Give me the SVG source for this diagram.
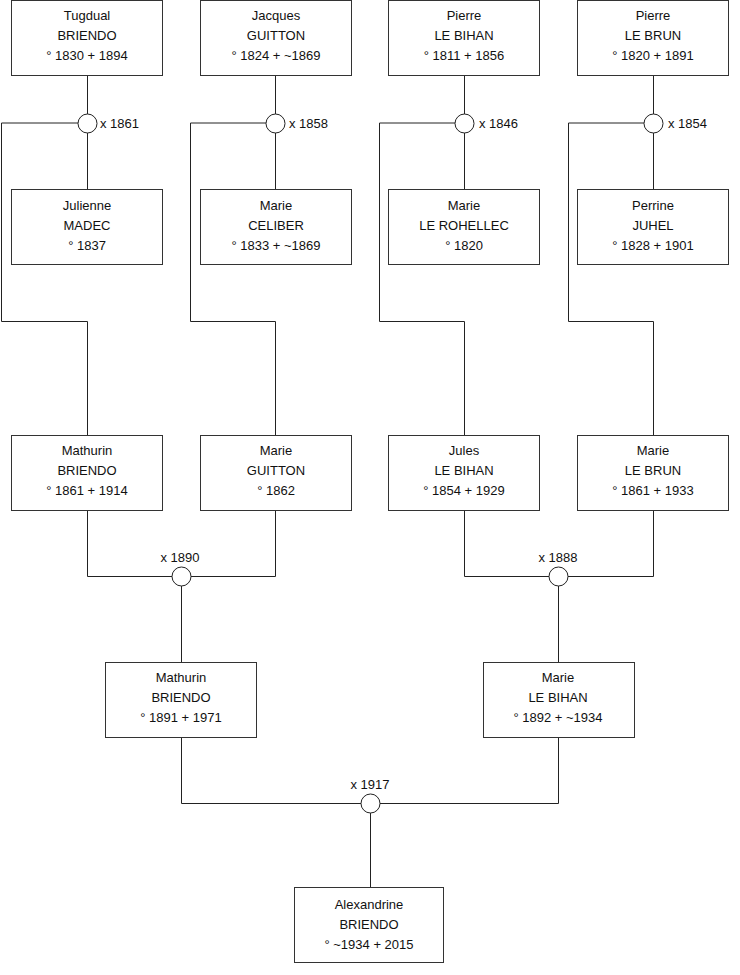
<svg xmlns="http://www.w3.org/2000/svg" width="740" height="975" viewBox="0 0 740 975">
<style>
.box{fill:#fff;stroke:#333;stroke-width:1}
.t{font-family:"Liberation Sans",Arial,sans-serif;font-size:13px;fill:#111;text-anchor:middle}
.m{font-family:"Liberation Sans",Arial,sans-serif;font-size:13px;fill:#111}
.ln{fill:none;stroke:#222;stroke-width:1}
.c{fill:#fff;stroke:#222;stroke-width:1}
</style>
<rect width="740" height="975" fill="#fff"/>
<g id="connectors">
<path class="ln" d="M87.5,76 V189 M87.5,123 H1.5 V321.5 H87.5 V435"/>
<path class="ln" d="M275.5,76 V189 M275.5,123 H190.5 V321.5 H275.5 V435"/>
<path class="ln" d="M464.5,76 V189 M464.5,123 H379.5 V321.5 H464.5 V435"/>
<path class="ln" d="M653.5,76 V189 M653.5,123 H568.5 V321.5 H653.5 V435"/>
<path class="ln" d="M87.5,511 V576.5 H275.5 V511 M181.5,576 V662"/>
<path class="ln" d="M464.5,511 V576.5 H653.5 V511 M558.5,576 V662"/>
<path class="ln" d="M181.5,737 V803.5 H558.5 V737 M370.5,803 V887"/>
</g>
<g id="m1861"><circle class="c" cx="87.5" cy="123.5" r="9.5"/><text class="m" x="100" y="128">x 1861</text></g>
<g id="m1858"><circle class="c" cx="275.5" cy="123.5" r="9.5"/><text class="m" x="289" y="128">x 1858</text></g>
<g id="m1846"><circle class="c" cx="464.5" cy="123.5" r="9.5"/><text class="m" x="479" y="128">x 1846</text></g>
<g id="m1854"><circle class="c" cx="653.5" cy="123.5" r="9.5"/><text class="m" x="668" y="128">x 1854</text></g>
<g id="m1890"><circle class="c" cx="181.5" cy="576.5" r="9.5"/><text class="t" x="180" y="562">x 1890</text></g>
<g id="m1888"><circle class="c" cx="558.5" cy="576.5" r="9.5"/><text class="t" x="558" y="562">x 1888</text></g>
<g id="m1917"><circle class="c" cx="370.5" cy="803.5" r="9.5"/><text class="t" x="370" y="789">x 1917</text></g>

<g id="tugdual"><rect class="box" x="11.5" y="0.5" width="151" height="75"/><text class="t" x="87" y="20">Tugdual</text><text class="t" x="87" y="40">BRIENDO</text><text class="t" x="87" y="60">° 1830 + 1894</text></g>
<g id="jacques"><rect class="box" x="200.5" y="0.5" width="151" height="75"/><text class="t" x="276" y="20">Jacques</text><text class="t" x="276" y="40">GUITTON</text><text class="t" x="276" y="60">° 1824 + ~1869</text></g>
<g id="pierre1"><rect class="box" x="388.5" y="0.5" width="151" height="75"/><text class="t" x="464" y="20">Pierre</text><text class="t" x="464" y="40">LE BIHAN</text><text class="t" x="464" y="60">° 1811 + 1856</text></g>
<g id="pierre2"><rect class="box" x="577.5" y="0.5" width="151" height="75"/><text class="t" x="653" y="20">Pierre</text><text class="t" x="653" y="40">LE BRUN</text><text class="t" x="653" y="60">° 1820 + 1891</text></g>

<g id="julienne"><rect class="box" x="11.5" y="189.5" width="151" height="75"/><text class="t" x="87" y="210">Julienne</text><text class="t" x="87" y="230">MADEC</text><text class="t" x="87" y="250">° 1837</text></g>
<g id="marie1"><rect class="box" x="200.5" y="189.5" width="151" height="75"/><text class="t" x="276" y="210">Marie</text><text class="t" x="276" y="230">CELIBER</text><text class="t" x="276" y="250">° 1833 + ~1869</text></g>
<g id="marie2"><rect class="box" x="388.5" y="189.5" width="151" height="75"/><text class="t" x="464" y="210">Marie</text><text class="t" x="464" y="230">LE ROHELLEC</text><text class="t" x="464" y="250">° 1820</text></g>
<g id="perrine"><rect class="box" x="577.5" y="189.5" width="151" height="75"/><text class="t" x="653" y="210">Perrine</text><text class="t" x="653" y="230">JUHEL</text><text class="t" x="653" y="250">° 1828 + 1901</text></g>

<g id="mathurin1"><rect class="box" x="11.5" y="435.5" width="151" height="75"/><text class="t" x="87" y="455">Mathurin</text><text class="t" x="87" y="475">BRIENDO</text><text class="t" x="87" y="495">° 1861 + 1914</text></g>
<g id="marie3"><rect class="box" x="200.5" y="435.5" width="151" height="75"/><text class="t" x="276" y="455">Marie</text><text class="t" x="276" y="475">GUITTON</text><text class="t" x="276" y="495">° 1862</text></g>
<g id="jules"><rect class="box" x="388.5" y="435.5" width="151" height="75"/><text class="t" x="464" y="455">Jules</text><text class="t" x="464" y="475">LE BIHAN</text><text class="t" x="464" y="495">° 1854 + 1929</text></g>
<g id="marie4"><rect class="box" x="577.5" y="435.5" width="151" height="75"/><text class="t" x="653" y="455">Marie</text><text class="t" x="653" y="475">LE BRUN</text><text class="t" x="653" y="495">° 1861 + 1933</text></g>

<g id="mathurin2"><rect class="box" x="105.5" y="662.5" width="151" height="75"/><text class="t" x="181" y="682">Mathurin</text><text class="t" x="181" y="702">BRIENDO</text><text class="t" x="181" y="722">° 1891 + 1971</text></g>
<g id="marie5"><rect class="box" x="483.5" y="662.5" width="151" height="75"/><text class="t" x="558" y="682">Marie</text><text class="t" x="558" y="702">LE BIHAN</text><text class="t" x="558" y="722">° 1892 + ~1934</text></g>

<g id="alexandrine"><rect class="box" x="294.5" y="887.5" width="149" height="75"/><text class="t" x="369" y="909">Alexandrine</text><text class="t" x="369" y="929">BRIENDO</text><text class="t" x="369" y="949">° ~1934 + 2015</text></g>
</svg>
